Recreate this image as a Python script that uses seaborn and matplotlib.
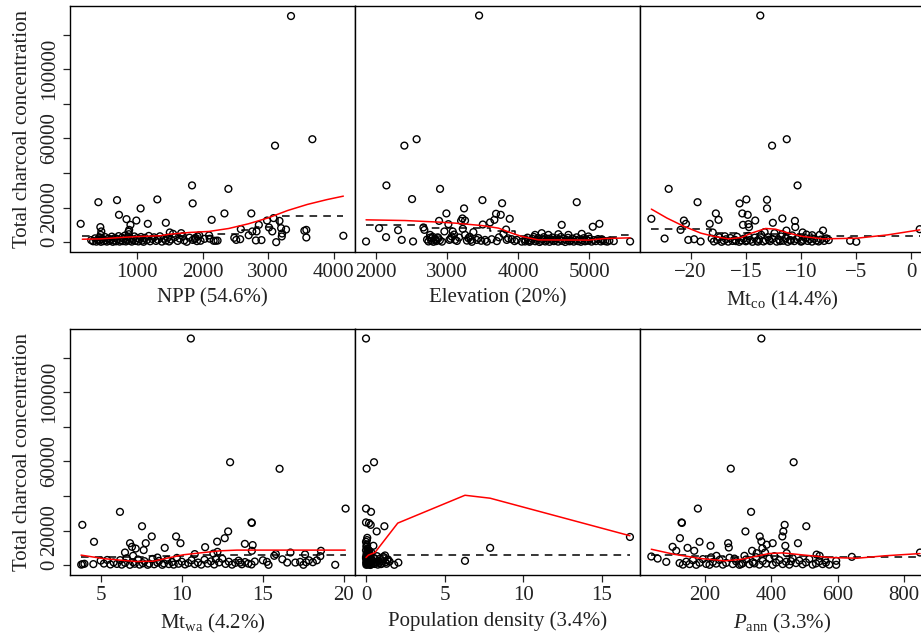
import matplotlib
matplotlib.use("Agg")
import matplotlib.pyplot as plt
import seaborn as sns

# ---- data ----
# points are (predictor value, total charcoal concentration)
npp_pts = [(140, 10600), (410, 23100), (695, 24300), (725, 15800), (840, 13300), (900, 10000), (880, 7100),
           (870, 6000), (990, 12500), (1055, 19500), (1165, 10600), (1310, 24700), (1440, 11200), (1840, 32800),
           (1850, 22400), (2140, 12900), (2395, 30800), (2335, 16600), (2745, 16600), (2860, 10000), (2985, 12500),
           (3085, 13900), (3175, 12300), (3015, 8500), (3200, 8100), (3275, 7300), (3215, 5000), (3210, 3300),
           (3065, 6200), (2825, 6200), (2760, 6200), (2705, 4000), (2585, 7500), (2575, 1700), (2485, 2500),
           (2515, 1300), (2900, 1200), (2815, 1000), (3125, 0), (3555, 6600), (3585, 7100), (3585, 2700),
           (4150, 3700), (2170, 800), (2200, 800), (2230, 900), (3351, 130700), (3677, 59500), (3107, 55800),
           (440, 8700), (455, 6200), (445, 4200), (1500, 5600), (1550, 4800), (1675, 5200), (1850, 1300),
           (1915, 600), (1925, 3300), (1950, 4000), (1890, 2500), (2100, 3900), (2110, 2000),
           (300, 1200), (330, 500), (360, 2200), (380, 300), (400, 1500), (420, 800), (430, 2800), (450, 200),
           (470, 1800), (490, 600), (510, 3000), (520, 1000), (540, 300), (560, 2000), (580, 700), (600, 1400),
           (615, 3200), (630, 200), (650, 900), (665, 2400), (680, 500), (700, 1700), (720, 3500), (735, 300),
           (750, 1100), (770, 2600), (785, 600), (800, 1900), (815, 3800), (830, 400), (850, 1300), (860, 2900),
           (875, 4600), (890, 800), (905, 2100), (920, 300), (940, 1500), (960, 3300), (975, 700), (1000, 2300),
           (1020, 400), (1040, 1600), (1060, 3000), (1080, 900), (1100, 200), (1120, 2500), (1150, 1200),
           (1180, 3600), (1200, 500), (1230, 1900), (1260, 2800), (1290, 700), (1320, 1400), (1350, 3400),
           (1380, 300), (1410, 2000), (1440, 900), (1470, 2600), (1490, 400), (1520, 1500), (1580, 2900),
           (1620, 700), (1650, 2100), (1700, 3500), (1720, 1000), (1760, 200), (1800, 2600), (1880, 1700),
           (1970, 800), (2030, 1900)]
npp_red = [(165, 1700), (450, 1900), (750, 2700), (1050, 3300), (1350, 3700), (1500, 4600), (1800, 5600),
           (2100, 6200), (2400, 7900), (2700, 10600), (3000, 14000), (3300, 18300), (3600, 21800),
           (3900, 24600), (4150, 26600)]
npp_dash = [(165, 3700), (2200, 5000), (2600, 7000), (2800, 9000), (3150, 15200), (4150, 15200)]

elev_pts = [(1864, 400), (2150, 32800), (2047, 8100), (2145, 2900), (2314, 6900), (2365, 1300), (2510, 24900),
            (2524, 400), (2669, 8500), (2683, 7100), (2903, 30800), (2889, 12300), (2992, 16600), (3020, 10400),
            (2964, 6200), (3081, 6200), (3100, 4400), (3198, 12300), (3217, 13700), (3240, 19500), (3254, 12500),
            (3222, 7700), (3371, 5800), (3498, 24300), (3503, 10200), (3605, 11400), (3666, 12900),
            (3689, 16400), (3755, 15800), (3774, 22500), (3881, 13500), (3830, 7300), (3792, 4800),
            (4822, 23100), (4611, 10000), (5047, 8900), (5140, 10600), (5342, 600), (5571, 400),
            (3451, 131000), (2574, 59500), (2402, 55800),
            (2763, 4200), (2786, 2300), (2842, 1300), (2880, 2300), (3034, 1300), (3067, 3300), (3114, 1300),
            (3254, 4200), (3301, 2300), (3334, 1300), (3418, 1300), (3535, 1300), (3628, 1700), (3839, 1300),
            (3910, 1700), (3980, 1300), (4097, 400), (4140, 800), (4237, 4200), (4330, 5200), (4424, 4200),
            (4564, 4600), (4705, 4200), (4892, 4800), (4986, 3300), (5173, 1700), (5220, 600),
            (2720, 1500), (2740, 400), (2760, 2600), (2780, 800), (2800, 3100), (2810, 200), (2830, 1900),
            (2850, 600), (2870, 2800), (2900, 1100), (2930, 300), (3050, 2000), (3140, 700), (3170, 2700),
            (3280, 900), (3320, 3100), (3350, 200), (3440, 2400), (3480, 800), (3560, 300), (3700, 600),
            (3730, 2800), (3860, 2200), (3950, 600), (4050, 300), (4100, 1400), (4130, 2600), (4160, 200),
            (4180, 900), (4200, 1900), (4220, 3000), (4240, 500), (4260, 1300), (4280, 2400), (4300, 100),
            (4320, 800), (4340, 1700), (4360, 2900), (4380, 400), (4400, 1100), (4420, 2000), (4440, 200),
            (4460, 1500), (4480, 2700), (4500, 600), (4520, 1200), (4540, 2200), (4560, 300), (4580, 1600),
            (4600, 3000), (4620, 700), (4640, 1900), (4660, 100), (4680, 1300), (4700, 2500), (4720, 500),
            (4740, 1000), (4760, 2100), (4780, 300), (4800, 1400), (4820, 2800), (4840, 600), (4860, 1700),
            (4880, 200), (4900, 1100), (4920, 2300), (4940, 500), (4960, 1500), (4980, 800), (5000, 2000),
            (5030, 300), (5060, 1200), (5090, 600), (5120, 1800), (5160, 400), (5190, 1000), (5250, 300),
            (5280, 900)]
elev_red = [(1864, 12900), (2412, 12500), (2880, 11600), (3114, 11000), (3490, 9600), (3724, 8100),
            (3911, 5200), (4050, 3300), (4284, 1300), (4986, 1200), (5220, 2100), (5571, 2500)]
elev_dash = [(1864, 10000), (2700, 8000), (3600, 6200), (3950, 3500), (4200, 1000), (5100, 3000),
             (5400, 4000), (5571, 4000)]

mtco_pts = [(-23.57, 13500), (-22.0, 30800), (-22.37, 2100), (-20.92, 7100), (-20.62, 12500), (-20.43, 10600),
            (-20.22, 1300), (-19.69, 1700), (-19.38, 23100), (-19.1, 400), (-18.28, 10600), (-18.0, 5600),
            (-17.72, 16600), (-17.48, 12900), (-15.57, 22400), (-14.95, 24700), (-15.32, 16600),
            (-14.83, 15800), (-15.26, 10000), (-14.77, 10400), (-14.71, 8700), (-14.15, 12500),
            (-13.08, 24500), (-13.08, 19500), (-12.55, 11200), (-11.69, 13700), (-11.32, 6700),
            (-10.55, 12300), (-10.31, 32800), (-10.52, 8700), (-9.85, 5600), (-8.98, 4000), (-8.0, 6700),
            (-8.3, 4200), (-7.48, 1200), (-5.54, 800), (-4.98, 200), (0.77, 7500), (-13.69, 131000),
            (-11.29, 59500), (-12.62, 55800),
            (-18.1, 2000), (-17.9, 400), (-17.6, 1200), (-17.4, 2800), (-17.2, 200), (-17.0, 900), (-16.8, 1700),
            (-16.6, 300), (-16.4, 2400), (-16.2, 700), (-16.0, 1400), (-15.8, 3100), (-15.6, 200), (-15.4, 1000),
            (-15.2, 2000), (-15.0, 500), (-14.8, 3600), (-14.6, 1300), (-14.4, 200), (-14.2, 2600),
            (-14.0, 800), (-13.8, 1700), (-13.6, 4200), (-13.4, 400), (-13.2, 1100), (-13.0, 2900),
            (-12.8, 600), (-12.6, 1900), (-12.4, 5200), (-12.2, 300), (-12.0, 1500), (-11.8, 3300),
            (-11.6, 800), (-11.4, 2200), (-11.2, 200), (-11.0, 1200), (-10.8, 3900), (-10.6, 600),
            (-10.4, 1800), (-10.2, 2700), (-10.0, 300), (-9.8, 1300), (-9.6, 2300), (-9.4, 700), (-9.2, 1600),
            (-9.0, 300), (-8.8, 2000), (-8.6, 900), (-8.4, 400), (-8.2, 1500), (-7.9, 700), (-7.7, 2200),
            (-16.9, 3400), (-15.9, 600), (-14.9, 1000), (-13.9, 300), (-12.9, 1400), (-11.9, 600),
            (-10.9, 1000), (-9.9, 600), (-13.3, 5800), (-11.7, 4700), (-9.5, 4400)]
mtco_red = [(-23.57, 19100), (-22.15, 13900), (-20.6, 9100), (-19.08, 5200), (-17.85, 3300), (-16.6, 1900),
            (-15.4, 2700), (-14.5, 5200), (-13.2, 7900), (-12.3, 7500), (-11.1, 5200), (-9.85, 3300),
            (-8.0, 1900), (-4.9, 2300), (-2.15, 4200), (0.77, 7100)]
mtco_dash = [(-23.57, 7500), (-18.2, 5500), (-14.0, 5000), (-11.0, 4500), (-9.0, 3300), (0.77, 3300)]

mtwa_pts = [(3.87, 23300), (3.89, 600), (3.8, 300), (4.0, 800), (4.59, 13500), (4.55, 600), (6.19, 30800),
            (6.81, 12700), (6.93, 10600), (7.16, 9600), (7.55, 22500), (7.65, 8700), (7.78, 12700),
            (8.15, 16600), (8.95, 10000), (9.65, 16600), (9.92, 12700), (11.44, 10400), (12.18, 13600),
            (12.2, 7700), (12.65, 15600), (12.86, 19500), (13.89, 12300), (14.3, 24700), (14.32, 24400),
            (14.37, 11600), (14.32, 8300), (16.7, 7300), (18.58, 8300), (20.1, 32700), (19.46, 200),
            (12.98, 59500), (16.03, 55700), (10.56, 131000), (15.0, 2800), (15.25, 1900), (15.35, 200),
            (15.7, 5400), (16.2, 3400), (17.0, 1500), (17.3, 1900), (17.5, 200), (17.67, 1700), (17.84, 2800),
            (18.08, 1700), (18.33, 2800), (18.54, 5200), (17.6, 6200), (15.8, 6400),
            (5.0, 2600), (5.2, 900), (5.4, 3000), (5.6, 400), (5.8, 1600), (6.0, 700), (6.2, 2900), (6.3, 300),
            (6.5, 1300), (6.6, 4000), (6.8, 200), (7.0, 1700), (7.1, 800), (7.3, 3300), (7.4, 300), (7.6, 1100),
            (7.7, 2300), (7.9, 200), (8.0, 900), (8.2, 3600), (8.3, 500), (8.5, 1400), (8.6, 2500), (8.8, 200),
            (8.9, 1000), (9.1, 3000), (9.2, 600), (9.4, 1800), (9.5, 300), (9.7, 4200), (9.8, 800),
            (10.0, 2000), (10.2, 400), (10.4, 1200), (10.6, 2800), (10.8, 600), (11.0, 1500), (11.2, 300),
            (11.4, 3100), (11.6, 900), (11.8, 2200), (12.0, 400), (12.3, 1600), (12.5, 3700), (12.7, 700),
            (12.9, 2000), (13.1, 300), (13.3, 1300), (13.5, 2600), (13.7, 500), (13.9, 1800), (14.1, 900),
            (14.3, 400), (14.5, 2100), (6.5, 7300), (7.0, 5400), (8.5, 4400), (10.8, 6400), (11.95, 6700),
            (12.1, 3500), (13.6, 1500), (16.5, 1500)]
mtwa_red = [(3.79, 5800), (5.16, 3800), (6.19, 2900), (7.22, 2100), (8.25, 2300), (9.28, 4400), (10.1, 6000),
            (11.34, 7300), (12.37, 8300), (13.4, 8700), (15.45, 8700), (20.08, 8700)]
mtwa_dash = [(3.8, 5000), (8.0, 5200), (11.0, 6000), (20.1, 6000)]

pop_pts = [(0.0, 32700), (0.32, 30800), (0.0, 24700), (0.19, 24300), (0.3, 23300), (1.17, 22500),
           (0.68, 19500), (0.08, 15800), (0.47, 11200), (1.21, 5600), (1.36, 2900), (1.0, 900), (1.8, 200),
           (2.06, 1500), (6.3, 2500), (7.9, 10000), (16.8, 16300), (0.0, 131000), (0.51, 59500), (0.04, 55800),
           (0.0, 13500), (0.05, 12000), (0.02, 10800), (0.1, 9500), (0.0, 8600), (0.08, 7800), (0.15, 7000),
           (0.03, 6300), (0.2, 5600), (0.06, 5000), (0.12, 4400), (0.0, 3900), (0.25, 3400), (0.04, 3000),
           (0.18, 2600), (0.09, 2200), (0.3, 1900), (0.01, 1600), (0.14, 1300), (0.22, 1000), (0.05, 800),
           (0.35, 600), (0.11, 400), (0.02, 200), (0.28, 100), (0.4, 2800), (0.45, 1200), (0.5, 4200),
           (0.55, 700), (0.6, 3500), (0.65, 1800), (0.7, 5200), (0.75, 300), (0.8, 2400), (0.85, 1400),
           (0.9, 3900), (0.95, 600), (1.05, 2200), (1.1, 4800), (1.25, 1700), (1.3, 800), (1.4, 3300),
           (1.5, 2100), (0.07, 11400), (0.13, 9000), (0.17, 6700), (0.2, 8200), (0.0, 4700), (0.1, 2000),
           (0.16, 500), (0.06, 14500), (0.33, 7400), (0.38, 3000)]
pop_red = [(0.0, 4400), (0.15, 5800), (0.57, 7300), (2.02, 24300), (6.3, 40400), (7.9, 38700), (16.8, 17000)]
pop_dash = [(0.0, 5800), (16.8, 5800)]

pann_pts = [(40, 5000), (59, 3800), (85, 1900), (104, 10600), (115, 8300), (126, 15600), (131, 24700),
            (132, 24400), (149, 10000), (180, 32700), (185, 13500), (218, 11200), (271, 12700), (323, 19500),
            (340, 30800), (366, 16600), (371, 13700), (387, 11800), (405, 12700), (434, 16600), (441, 23300),
            (437, 19500), (481, 12700), (506, 22500), (643, 4800), (848, 7300), (596, 2500), (596, 200),
            (371, 131000), (468, 59500), (279, 55800),
            (169, 8300), (236, 5400), (273, 10200), (320, 5400), (343, 8300), (357, 6900), (374, 9800),
            (382, 7300), (443, 11200), (447, 6900), (537, 6100), (546, 5400), (563, 2800),
            (125, 1200), (135, 300), (145, 2000), (155, 600), (165, 2800), (175, 200), (185, 1400), (195, 3500),
            (205, 700), (215, 200), (225, 1800), (235, 900), (245, 3000), (255, 300), (265, 1300), (275, 4300),
            (285, 600), (295, 2200), (305, 200), (315, 1100), (325, 3300), (335, 500), (345, 1700), (355, 4600),
            (365, 300), (375, 2400), (385, 900), (395, 3800), (405, 200), (415, 1500), (425, 2900), (435, 600),
            (445, 1900), (455, 300), (465, 4000), (475, 1200), (485, 2600), (495, 500), (505, 1600),
            (515, 3500), (525, 300), (535, 1000), (545, 2200), (555, 600), (565, 1500), (575, 300),
            (220, 4500), (290, 3800), (350, 1000), (410, 5200), (460, 2300), (310, 600)]
pann_red = [(40, 9200), (108, 6300), (190, 3800), (261, 2500), (312, 3400), (394, 6700), (435, 7100),
            (496, 5900), (577, 4400), (659, 4000), (741, 5400), (848, 6700)]
pann_dash = [(40, 5800), (150, 5200), (260, 4500), (380, 5500), (540, 5000), (848, 5000)]

y_ticks = [0, 20000, 40000, 60000, 80000, 100000, 120000]
y_ticklabels = ["0", "20000", "", "60000", "", "100000", ""]

panels = [
    dict(pts=npp_pts, red=npp_red, dash=npp_dash, xlim=(-23, 4328), xticks=[1000, 2000, 3000, 4000],
         xlabel="NPP (54.6%)", pos=(70, 6)),
    dict(pts=elev_pts, red=elev_red, dash=elev_dash, xlim=(1709, 5710), xticks=[2000, 3000, 4000, 5000],
         xlabel="Elevation (20%)", pos=(355, 6)),
    dict(pts=mtco_pts, red=mtco_red, dash=mtco_dash, xlim=(-24.6, 1.25), xticks=[-20, -15, -10, -5, 0],
         xlabel=r"Mt$_{\rm co}$ (14.4%)", pos=(640, 6)),
    dict(pts=mtwa_pts, red=mtwa_red, dash=mtwa_dash, xlim=(3.11, 20.68), xticks=[5, 10, 15, 20],
         xlabel=r"Mt$_{\rm wa}$ (4.2%)", pos=(70, 329)),
    dict(pts=pop_pts, red=pop_red, dash=pop_dash, xlim=(-0.70, 17.44), xticks=[0, 5, 10, 15],
         xlabel="Population density (3.4%)", pos=(355, 329)),
    dict(pts=pann_pts, red=pann_red, dash=pann_dash, xlim=(6, 863), xticks=[200, 400, 600, 800],
         xlabel=r"$P_{\rm ann}$ (3.3%)", pos=(640, 329)),
]

sns.set_style("ticks")
plt.rcParams['font.family'] = ['Liberation Serif', 'DejaVu Serif']
plt.rcParams['mathtext.fontset'] = 'custom'
plt.rcParams['mathtext.rm'] = 'Liberation Serif'
plt.rcParams['mathtext.it'] = 'Liberation Serif:italic'

W, H = 921, 638
FS = 15
fig = plt.figure(figsize=(W / 100, H / 100), dpi=100)

for i, p in enumerate(panels):
    left, top = p["pos"]
    ax = fig.add_axes([left / W, 1 - (top + 245.5) / H, 285 / W, 245.5 / H])

    px, py = zip(*p["pts"])
    sns.scatterplot(x=list(px), y=list(py), ax=ax, marker="o", s=24, color="none",
                    edgecolor="black", linewidth=1.0, zorder=2)
    dx, dy = zip(*p["dash"])
    sns.lineplot(x=list(dx), y=list(dy), ax=ax, color="black", lw=1.1, linestyle=(0, (5, 4)),
                 drawstyle="steps-post", estimator=None, sort=False, zorder=3)
    rx, ry = zip(*p["red"])
    sns.lineplot(x=list(rx), y=list(ry), ax=ax, color="red", lw=1.1, estimator=None, sort=False, zorder=4)

    ax.set_xlim(*p["xlim"])
    ax.set_ylim(-5400, 136500)
    ax.set_xticks(p["xticks"])
    ax.tick_params(axis="x", direction="out", length=5, width=0.9, labelsize=FS, pad=3, colors="#222222")
    ax.set_xlabel(p["xlabel"], fontsize=FS, labelpad=5, color="#222222")

    if i % 3 == 0:
        ax.set_yticks(y_ticks)
        ax.set_yticklabels(y_ticklabels, rotation=90, va="center")
        ax.tick_params(axis="y", direction="out", length=5, width=0.9, labelsize=FS, pad=3, colors="#222222")
        ax.set_ylabel("Total charcoal concentration", fontsize=FS, labelpad=6, color="#222222")
    else:
        ax.set_yticks([])
        ax.set_ylabel("")

    for sp in ax.spines.values():
        sp.set_visible(True)
        sp.set_linewidth(1.0)
        sp.set_color("black")
    ax.grid(False)

fig.savefig("out.png", dpi=100)
